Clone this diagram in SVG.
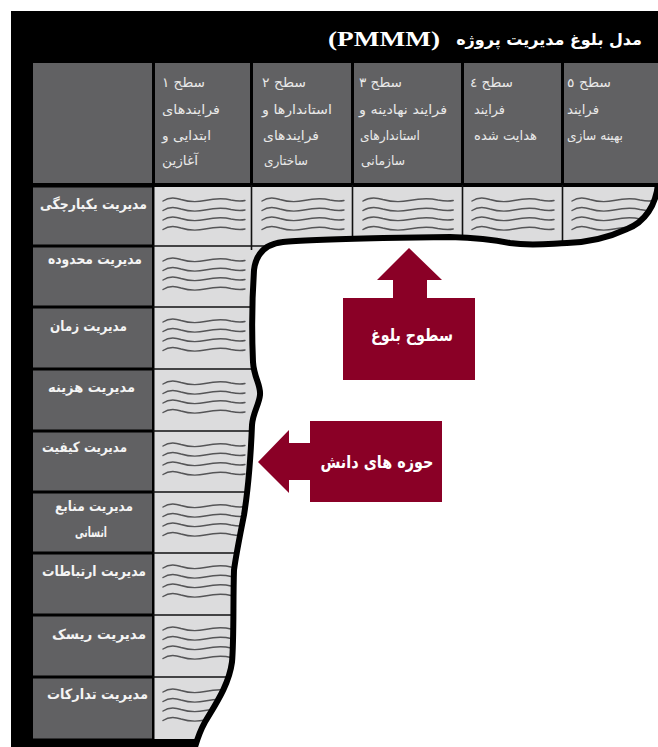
<svg xmlns="http://www.w3.org/2000/svg" xmlns:xlink="http://www.w3.org/1999/xlink" width="658" height="747" viewBox="0 0 658 747">
<style>
.dk{fill:#616163}
.lt{fill:#dcdcdd}
.ln{stroke:#111;stroke-width:1.6}
.wv{fill:none;stroke:#555557;stroke-width:1.4;stroke-linecap:round}
.hd{font-family:"DejaVu Sans",sans-serif;font-size:13px;fill:#e9e9e9}
.lb{font-family:"DejaVu Sans",sans-serif;font-size:14px;font-weight:bold;fill:#f4f4f4}
.ttl{font-family:"DejaVu Sans",sans-serif;font-size:16px;font-weight:bold;fill:#fff}
.ar{fill:#8a0026}
.at{font-family:"DejaVu Sans",sans-serif;font-size:17px;font-weight:bold;fill:#fff}
</style>
<defs>
<path id="wl" class="wv" d="M0,1 C5,-2.5 11,-3 18,-0.5 C26,2 33,2.5 42,0.5 C52,-1.5 60,-2 68,0 C74,1.2 79,1.2 82,0.5"/>
<g id="w4">
<use xlink:href="#wl" href="#wl" y="0"/>
<use xlink:href="#wl" href="#wl" y="9.5"/>
<use xlink:href="#wl" href="#wl" y="19"/>
<use xlink:href="#wl" href="#wl" y="28.5"/>
</g>
<clipPath id="reg">
<path d="M11,11 H658 V184 C656,205 645,222 627,229 C612,236 595,242 567,243 C545,244 530,246 510,243 C495,240 480,238 450,237 L383,238 C340,239 300,240 283,242 C265,244 256,254 254,270 C252,300 252,340 253,362 C254,378 261,385 260,395 C259,405 253,412 252,425 C251,450 248,490 244,515 C240,535 236,555 234,570 C233,600 234,640 232,662 C229,685 215,705 205,722 C200,731 197,740 195,747 H11 Z"/>
</clipPath>
</defs>
<rect width="658" height="747" fill="#fff"/>
<g id="frame">
<path fill="#000" d="M11,11 H658 V184 C656,205 645,222 627,229 C612,236 595,242 567,243 C545,244 530,246 510,243 C495,240 480,238 450,237 L383,238 C340,239 300,240 283,242 C265,244 256,254 254,270 C252,300 252,340 253,362 C254,378 261,385 260,395 C259,405 253,412 252,425 C251,450 248,490 244,515 C240,535 236,555 234,570 C233,600 234,640 232,662 C229,685 215,705 205,722 C200,731 197,740 195,747 H11 Z"/>
</g>
<g id="title">
<text class="ttl" x="642" y="45" text-anchor="end">مدل بلوغ مدیریت پروژه</text>
<text x="440" y="46" text-anchor="end" font-family="'Liberation Serif',serif" font-size="22" font-weight="bold" fill="#fff" textLength="112" lengthAdjust="spacingAndGlyphs">(PMMM)</text>
</g>
<g id="header">
<rect class="dk" x="33" y="63" width="119" height="120"/>
<g id="level-1">
<rect class="dk" x="155" y="63" width="95" height="120"/>
<text class="hd" x="162" y="87" textLength="43" lengthAdjust="spacingAndGlyphs">سطح ۱</text>
<text class="hd" x="162" y="114" textLength="58" lengthAdjust="spacingAndGlyphs">فرایندهای</text>
<text class="hd" x="162" y="140" textLength="49" lengthAdjust="spacingAndGlyphs">ابتدایی و</text>
<text class="hd" x="162" y="165" textLength="36" lengthAdjust="spacingAndGlyphs">آغازین</text>
</g>
<g id="level-2">
<rect class="dk" x="253" y="63" width="98" height="120"/>
<text class="hd" x="262" y="87" textLength="44" lengthAdjust="spacingAndGlyphs">سطح ۲</text>
<text class="hd" x="262" y="114" textLength="70" lengthAdjust="spacingAndGlyphs">استاندارها و</text>
<text class="hd" x="263" y="140" textLength="56" lengthAdjust="spacingAndGlyphs">فرایندهای</text>
<text class="hd" x="264" y="165" textLength="44" lengthAdjust="spacingAndGlyphs">ساختاری</text>
</g>
<g id="level-3">
<rect class="dk" x="354" y="63" width="107" height="120"/>
<text class="hd" x="359" y="87" textLength="43" lengthAdjust="spacingAndGlyphs">سطح ۳</text>
<text class="hd" x="359" y="114" textLength="88" lengthAdjust="spacingAndGlyphs">فرایند نهادینه و</text>
<text class="hd" x="360" y="140" textLength="60" lengthAdjust="spacingAndGlyphs">استاندارهای</text>
<text class="hd" x="361" y="165" textLength="44" lengthAdjust="spacingAndGlyphs">سازمانی</text>
</g>
<g id="level-4">
<rect class="dk" x="464" y="63" width="97" height="120"/>
<text class="hd" x="470" y="87" textLength="43" lengthAdjust="spacingAndGlyphs">سطح ٤</text>
<text class="hd" x="474" y="114" textLength="31" lengthAdjust="spacingAndGlyphs">فرایند</text>
<text class="hd" x="474" y="140" textLength="63" lengthAdjust="spacingAndGlyphs">هدایت شده</text>
</g>
<g id="level-5">
<rect class="dk" x="564" y="63" width="94" height="120"/>
<text class="hd" x="567" y="87" textLength="44" lengthAdjust="spacingAndGlyphs">سطح ٥</text>
<text class="hd" x="567" y="114" textLength="32" lengthAdjust="spacingAndGlyphs">فرایند</text>
<text class="hd" x="567" y="140" textLength="56" lengthAdjust="spacingAndGlyphs">بهینه سازی</text>
</g>
</g>
<g id="body" clip-path="url(#reg)">
<rect class="lt" x="154.5" y="187" width="504" height="552"/>
<g id="grid">
<line class="ln" x1="153" y1="246" x2="300" y2="246"/>
<line class="ln" x1="153" y1="307" x2="300" y2="307"/>
<line class="ln" x1="153" y1="369" x2="300" y2="369"/>
<line class="ln" x1="153" y1="431" x2="300" y2="431"/>
<line class="ln" x1="153" y1="492" x2="300" y2="492"/>
<line class="ln" x1="153" y1="553" x2="300" y2="553"/>
<line class="ln" x1="153" y1="615" x2="300" y2="615"/>
<line class="ln" x1="153" y1="677" x2="300" y2="677"/>
<line class="ln" x1="251.5" y1="185" x2="251.5" y2="250"/>
<line class="ln" x1="352.5" y1="185" x2="352.5" y2="250"/>
<line class="ln" x1="462.5" y1="185" x2="462.5" y2="250"/>
<line class="ln" x1="562.5" y1="185" x2="562.5" y2="250"/>
</g>
<g id="waves">
<use href="#w4" xlink:href="#w4" x="163" y="200"/>
<use href="#w4" xlink:href="#w4" x="262" y="200"/>
<use href="#w4" xlink:href="#w4" transform="translate(363,200) scale(1.1,1)"/>
<use href="#w4" xlink:href="#w4" x="472" y="200"/>
<use href="#w4" xlink:href="#w4" x="572" y="200"/>
<use href="#w4" xlink:href="#w4" x="163" y="260"/>
<use href="#w4" xlink:href="#w4" x="163" y="321"/>
<use href="#w4" xlink:href="#w4" x="163" y="383"/>
<use href="#w4" xlink:href="#w4" x="163" y="445"/>
<use href="#w4" xlink:href="#w4" x="163" y="506"/>
<use href="#w4" xlink:href="#w4" x="163" y="567"/>
<use href="#w4" xlink:href="#w4" x="163" y="629"/>
<use href="#w4" xlink:href="#w4" x="163" y="691"/>
</g>
</g>
<g id="row-1"><rect class="dk" x="33" y="187.5" width="119" height="57"/>
<text class="lb" x="147" y="209" text-anchor="end" textLength="107" lengthAdjust="spacingAndGlyphs">مدیریت یکپارچگی</text></g>
<g id="row-2"><rect class="dk" x="33" y="247.5" width="119" height="58"/>
<text class="lb" x="142" y="264" text-anchor="end" textLength="94" lengthAdjust="spacingAndGlyphs">مدیریت محدوده</text></g>
<g id="row-3"><rect class="dk" x="33" y="308.5" width="119" height="59"/>
<text class="lb" x="127" y="331" text-anchor="end" textLength="77" lengthAdjust="spacingAndGlyphs">مدیریت زمان</text></g>
<g id="row-4"><rect class="dk" x="33" y="370.5" width="119" height="59"/>
<text class="lb" x="135" y="392" text-anchor="end" textLength="87" lengthAdjust="spacingAndGlyphs">مدیریت  هزینه</text></g>
<g id="row-5"><rect class="dk" x="33" y="432.5" width="119" height="58"/>
<text class="lb" x="127" y="452" text-anchor="end" textLength="85" lengthAdjust="spacingAndGlyphs">مدیریت کیفیت</text></g>
<g id="row-6"><rect class="dk" x="33" y="493.5" width="119" height="58"/>
<text class="lb" x="133" y="511" text-anchor="end" textLength="78" lengthAdjust="spacingAndGlyphs">مدیریت منابع</text>
<text class="lb" x="107" y="537" text-anchor="end" textLength="32" lengthAdjust="spacingAndGlyphs">انسانی</text></g>
<g id="row-7"><rect class="dk" x="33" y="554.5" width="119" height="59"/>
<text class="lb" x="146" y="576" text-anchor="end" textLength="104" lengthAdjust="spacingAndGlyphs">مدیریت ارتباطات</text></g>
<g id="row-8"><rect class="dk" x="33" y="616.5" width="119" height="59"/>
<text class="lb" x="146" y="639" text-anchor="end" textLength="94" lengthAdjust="spacingAndGlyphs">مدیریت  ریسک</text></g>
<g id="row-9"><rect class="dk" x="33" y="678.5" width="119" height="60"/>
<text class="lb" x="148" y="699" text-anchor="end" textLength="101" lengthAdjust="spacingAndGlyphs">مدیریت  تدارکات</text></g>
<g id="connectors">
<path id="boundary" fill="none" stroke="#000" stroke-width="6" stroke-linejoin="round" d="M658,184 C656,205 645,222 627,229 C612,236 595,242 567,243 C545,244 530,246 510,243 C495,240 480,238 450,237 L383,238 C340,239 300,240 283,242 C265,244 256,254 254,270 C252,300 252,340 253,362 C254,378 261,385 260,395 C259,405 253,412 252,425 C251,450 248,490 244,515 C240,535 236,555 234,570 C233,600 234,640 232,662 C229,685 215,705 205,722 C200,731 197,740 195,747"/>
</g>
<g id="arrow-levels">
<path class="ar" d="M343,298 H393 V280 H377 L409,248 L442,280 H427 V298 H475 V380 H343 Z"/>
<text class="at" x="412" y="341" text-anchor="middle" textLength="82" lengthAdjust="spacingAndGlyphs">سطوح بلوغ</text>
</g>
<g id="arrow-knowledge">
<path class="ar" d="M442,421 V502 H310 V480 H289 V493 L258,462 L289,430 V443 H310 V421 Z"/>
<text class="at" x="377" y="468" text-anchor="middle" textLength="113" lengthAdjust="spacingAndGlyphs">حوزه های دانش</text>
</g>
</svg>
